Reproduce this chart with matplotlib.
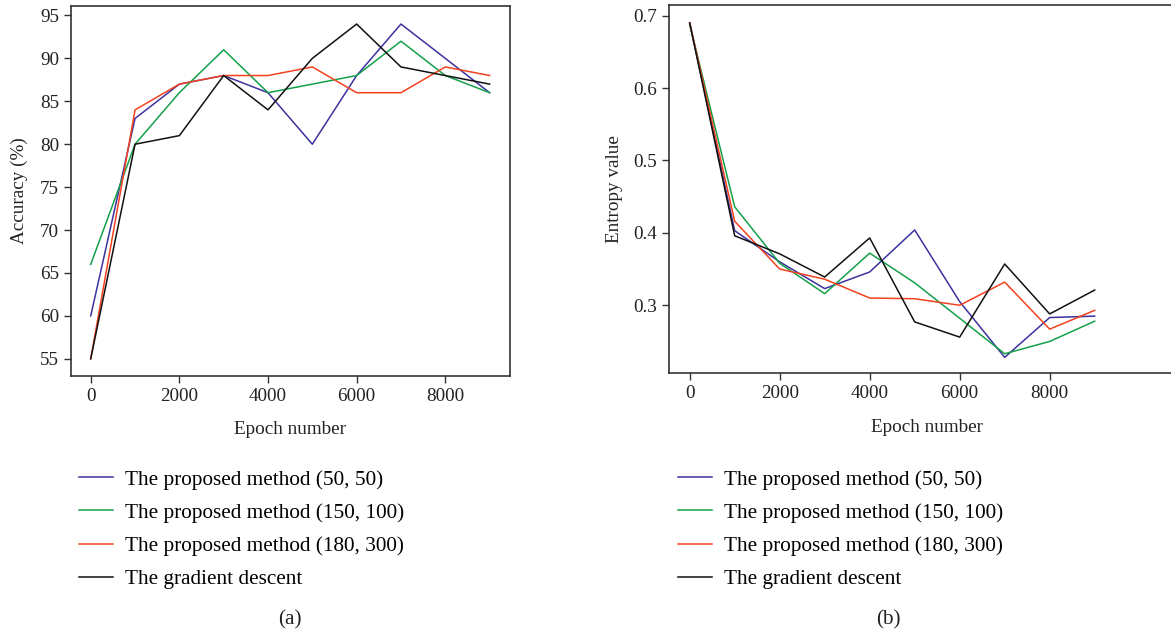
import matplotlib
matplotlib.use("Agg")
import matplotlib.pyplot as plt

# data
epochs = [0, 1000, 2000, 3000, 4000, 5000, 6000, 7000, 8000, 9000]

acc_50_50 = [60, 83, 87, 88, 86, 80, 88, 94, 90, 86]
acc_150_100 = [66, 80, 86, 91, 86, 87, 88, 92, 88, 86]
acc_180_300 = [55, 84, 87, 88, 88, 89, 86, 86, 89, 88]
acc_gd = [55, 80, 81, 88, 84, 90, 94, 89, 88, 87]

ent_50_50 = [0.690, 0.403, 0.360, 0.323, 0.346, 0.404, 0.305, 0.228, 0.283, 0.285]
ent_150_100 = [0.688, 0.436, 0.358, 0.316, 0.372, 0.331, 0.282, 0.233, 0.250, 0.278]
ent_180_300 = [0.690, 0.416, 0.350, 0.336, 0.310, 0.309, 0.300, 0.332, 0.267, 0.293]
ent_gd = [0.690, 0.396, 0.371, 0.339, 0.393, 0.277, 0.256, 0.357, 0.288, 0.321]

labels = ["The proposed method (50, 50)",
          "The proposed method (150, 100)",
          "The proposed method (180, 300)",
          "The gradient descent"]
colors = ["#3b32a0", "#14a04a", "#f2421f", "#111111"]

plt.rcParams['font.family'] = ['Liberation Serif', 'DejaVu Serif']
fs = 13.8
fs_leg = 15.3

fig = plt.figure(figsize=(11.71, 6.30), dpi=100)

W, H = 1171.0, 630.0
ax1 = fig.add_axes([71 / W, (H - 376) / H, 439 / W, 370 / H])
ax2 = fig.add_axes([669.3 / W, (H - 373.3) / H, 515.7 / W, 368.3 / H])

for ys, c, lab in zip([acc_50_50, acc_150_100, acc_180_300, acc_gd], colors, labels):
    ax1.plot(epochs, ys, color=c, lw=1.1, label=lab)
for ys, c, lab in zip([ent_50_50, ent_150_100, ent_180_300, ent_gd], colors, labels):
    ax2.plot(epochs, ys, color=c, lw=1.1, label=lab)

ax1.set_xlim(-445, 9460)
ax1.set_ylim(53.0, 96.1)
ax1.set_yticks(range(55, 96, 5))
ax1.set_ylabel("Accuracy (%)", fontsize=fs, color="#222222", labelpad=9)

ax2.set_xlim(-453, 11007)
ax2.set_ylim(0.206, 0.7148)
ax2.set_yticks([0.3, 0.4, 0.5, 0.6, 0.7])
ax2.set_ylabel("Entropy value", fontsize=fs, color="#222222", labelpad=8)

for ax in (ax1, ax2):
    ax.set_xticks([0, 2000, 4000, 6000, 8000])
    ax.set_xlabel("Epoch number", fontsize=fs, color="#222222", labelpad=12)
    ax.tick_params(direction="out", length=5, width=1, colors="#333333",
                   labelsize=fs, labelcolor="#222222", top=False, right=False)
    for sp in ax.spines.values():
        sp.set_color("#333333")
        sp.set_linewidth(1.2)

leg_kw = dict(frameon=False, fontsize=fs_leg, handlelength=1.6, handletextpad=0.56,
              labelspacing=0.62, borderpad=0, borderaxespad=0, loc="upper left")
h1, l1 = ax1.get_legend_handles_labels()
fig.legend(h1, l1, bbox_to_anchor=(79 / W, (H - 470) / H), **leg_kw)
h2, l2 = ax2.get_legend_handles_labels()
fig.legend(h2, l2, bbox_to_anchor=(678 / W, (H - 470) / H), **leg_kw)

fig.text(290 / W, (H - 620) / H, "(a)", ha="center", va="center", fontsize=fs_leg, color="#222222")
fig.text(888 / W, (H - 620) / H, "(b)", ha="center", va="center", fontsize=fs_leg, color="#222222")

fig.savefig("out.png", dpi=100)
